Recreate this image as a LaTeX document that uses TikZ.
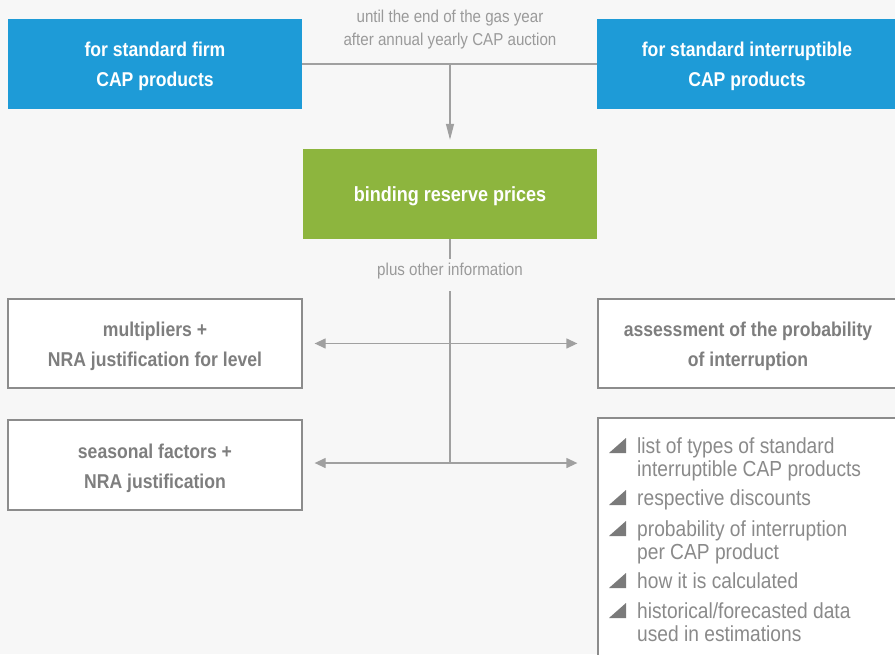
\documentclass[tikz,border=0pt]{standalone}
\usepackage{fontspec}
\setmainfont{Liberation Sans}[FakeStretch=0.88]
\usetikzlibrary{arrows.meta,calc}
\definecolor{bgc}{HTML}{F7F7F7}
\definecolor{cpblue}{HTML}{1E9BD7}
\definecolor{cpgreen}{HTML}{8DB53E}
\definecolor{boxtext}{HTML}{7E7E7E}
\definecolor{boxline}{HTML}{8C8C8C}
\definecolor{notec}{HTML}{9A9A9A}
\definecolor{listc}{HTML}{8A8A8A}
\definecolor{linec}{HTML}{A0A0A0}
\definecolor{bulletc}{HTML}{7A7A7A}
\tikzset{
  solidbox/.style={rectangle, inner sep=0pt, text=white, align=center, text height=48.5pt,
    font=\bfseries\fontsize{20}{30}\selectfont},
  framebox/.style={rectangle, inner sep=0pt, fill=white, draw=boxline, line width=1.3pt,
    text=boxtext, align=center, text height=50.5pt, font=\bfseries\fontsize{20}{30}\selectfont},
  note/.style={inner sep=0pt, text=notec, align=center, font=\fontsize{17.2}{23}\selectfont},
  conn/.style={draw=linec, line width=1.3pt},
  dbl/.style={conn, {Triangle[length=11pt,width=10pt]}-{Triangle[length=11pt,width=10pt]},
    shorten <=12pt, shorten >=20pt},
  listline/.style={inner sep=0pt, anchor=base west, text=listc, font=\fontsize{21.8}{23}\selectfont}
}
\begin{document}
\begin{tikzpicture}[x=1pt,y=-1pt]
\useasboundingbox (0,0) rectangle (895,654);
\fill[bgc] (0,0) rectangle (895,654);

% top row
\node[solidbox, fill=cpblue, minimum width=294pt, minimum height=90pt] (bl) at (155,64)
  {for standard firm\\CAP products};
\node[solidbox, fill=cpblue, minimum width=300pt, minimum height=90pt] (br) at (747,64)
  {for standard interruptible\\CAP products};
\node[note] (until) at (450,30) {until the end of the gas year\\after annual yearly CAP auction};

% green
\node[solidbox, fill=cpgreen, minimum width=294pt, minimum height=90pt, text height=18.5pt,
  font=\bfseries\fontsize{20.5}{30}\selectfont] (gr) at (450,194) {binding reserve prices};

\coordinate (top) at (450,64);
\draw[conn] (bl.east) -- (br.west);
\draw[conn, -{Triangle[length=16pt,width=8pt]}, shorten >=9pt] (top) -- (gr.north);

\node[note, inner ysep=4pt] (plus) at (450,271) {plus other information};
\draw[conn] (gr.south) -- (plus.north);

% boxes
\node[framebox, minimum width=294pt, minimum height=89pt] (m1) at (155,343.5)
  {multipliers +\\NRA justification for level};
\node[framebox, minimum width=300pt, minimum height=89pt] (a1) at (748,343.5)
  {assessment of the probability\\of interruption};
\node[framebox, minimum width=294pt, minimum height=90pt] (s2) at (155,465)
  {seasonal factors +\\NRA justification};
\node[framebox, minimum width=300pt, minimum height=250pt] (l2) at (748,543) {};

\coordinate (j) at (450,463);
\draw[conn, shorten <=8pt] (plus.south) -- (j);
\draw[dbl] (m1.east) -- (a1.west);
\draw[dbl] (s2.east |- j) -- (j -| l2.west);

% list
\foreach \b in {453,505,536,588,618}
  \fill[bulletc] (609,\b) -- (626,\b) -- (626,{\b-15}) -- cycle;
\node[listline] (i1a) at (637,453) {list of types of standard};
\node[listline] (i1b) at (637,476) {interruptible CAP products};
\node[listline] (i2a) at (637,505) {respective discounts};
\node[listline] (i3a) at (637,536) {probability of interruption};
\node[listline] (i3b) at (637,559) {per CAP product};
\node[listline] (i4a) at (637,588) {how it is calculated};
\node[listline] (i5a) at (637,618) {historical/forecasted data};
\node[listline] (i5b) at (637,641) {used in estimations};
\end{tikzpicture}
\end{document}
